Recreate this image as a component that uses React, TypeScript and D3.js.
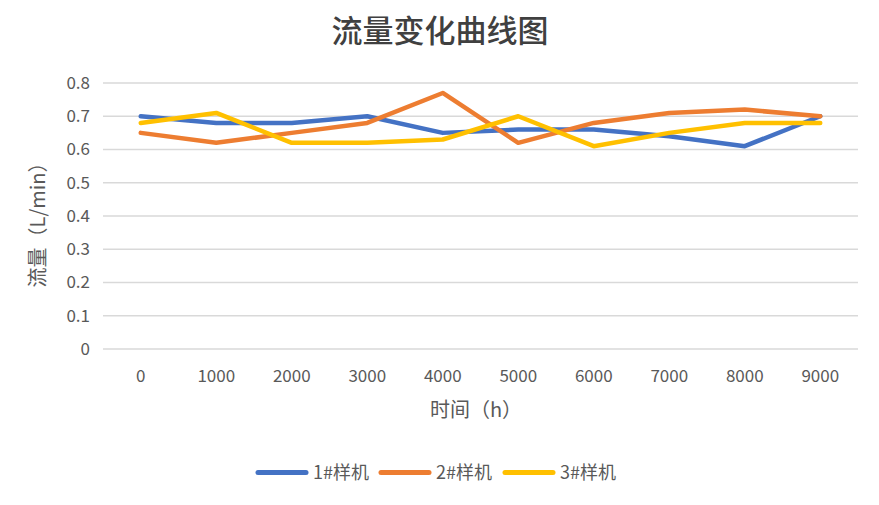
import React, { useEffect, useRef } from 'react';
import * as d3 from 'd3';

const hours = ['0', '1000', '2000', '3000', '4000', '5000', '6000', '7000', '8000', '9000'];
const sample1 = [0.70, 0.68, 0.68, 0.70, 0.65, 0.66, 0.66, 0.64, 0.61, 0.70];
const sample2 = [0.65, 0.62, 0.65, 0.68, 0.77, 0.62, 0.68, 0.71, 0.72, 0.70];
const sample3 = [0.68, 0.71, 0.62, 0.62, 0.63, 0.70, 0.61, 0.65, 0.68, 0.68];
const yTicks = [0, 0.1, 0.2, 0.3, 0.4, 0.5, 0.6, 0.7, 0.8];
const seriesNames = ['1#样机', '2#样机', '3#样机'];
const seriesColors = ['#4472C4', '#ED7D31', '#FFC000'];

const W = 879;
const H = 505;
const FONT = '"Noto Sans CJK SC", "Noto Sans", sans-serif';

export default function App() {
  const svgRef = useRef<SVGSVGElement>(null);

  useEffect(() => {
    if (!svgRef.current) return;
    const svg = d3.select(svgRef.current);
    svg.selectAll('*').remove();

    const margin = { top: 83, right: 21, bottom: 156, left: 103 };

    const x = d3.scaleBand<string>()
      .domain(hours)
      .range([margin.left, W - margin.right]);

    const y = d3.scaleLinear()
      .domain([0, 0.8])
      .range([H - margin.bottom, margin.top]);

    // title
    svg.append('text')
      .attr('x', 440)
      .attr('y', 42)
      .attr('text-anchor', 'middle')
      .attr('font-family', FONT)
      .attr('font-size', 31)
      .attr('font-weight', 500)
      .attr('fill', '#404040')
      .text('流量变化曲线图');

    // grid lines
    svg.append('g')
      .selectAll('line')
      .data(yTicks)
      .enter()
      .append('line')
      .attr('x1', margin.left)
      .attr('x2', W - margin.right)
      .attr('y1', d => y(d))
      .attr('y2', d => y(d))
      .attr('stroke', '#d9d9d9')
      .attr('stroke-width', 1.3);

    // y tick labels
    svg.append('g')
      .selectAll('text')
      .data(yTicks)
      .enter()
      .append('text')
      .attr('x', 90)
      .attr('y', d => y(d))
      .attr('dy', '0.35em')
      .attr('text-anchor', 'end')
      .attr('font-family', FONT)
      .attr('font-size', 17)
      .attr('fill', '#595959')
      .text(d => d3.format('.1~f')(d));

    // x tick labels
    svg.append('g')
      .selectAll('text')
      .data(hours)
      .enter()
      .append('text')
      .attr('x', d => (x(d) as number) + x.bandwidth() / 2)
      .attr('y', 376)
      .attr('dy', '0.35em')
      .attr('text-anchor', 'middle')
      .attr('font-family', FONT)
      .attr('font-size', 17)
      .attr('fill', '#595959')
      .text(d => d);

    // axis titles
    svg.append('text')
      .attr('x', 476)
      .attr('y', 410)
      .attr('dy', '0.35em')
      .attr('text-anchor', 'middle')
      .attr('font-family', FONT)
      .attr('font-size', 20)
      .attr('fill', '#595959')
      .text('时间（h）');

    svg.append('text')
      .attr('transform', 'translate(38,220) rotate(-90)')
      .attr('dy', '0.35em')
      .attr('text-anchor', 'middle')
      .attr('font-family', FONT)
      .attr('font-size', 20)
      .attr('fill', '#595959')
      .text('流量（L/min）');

    // lines
    const line = d3.line<number>()
      .x((_, i) => (x(hours[i]) as number) + x.bandwidth() / 2)
      .y(d => y(d));

    [sample1, sample2, sample3].forEach((s, i) => {
      svg.append('path')
        .datum(s)
        .attr('fill', 'none')
        .attr('stroke', seriesColors[i])
        .attr('stroke-width', 4.5)
        .attr('stroke-linejoin', 'round')
        .attr('stroke-linecap', 'round')
        .attr('d', line);
    });

    // legend
    const legendX = [258, 381, 505];
    const legend = svg.append('g');
    seriesNames.forEach((name, i) => {
      legend.append('line')
        .attr('x1', legendX[i])
        .attr('x2', legendX[i] + 48)
        .attr('y1', 472.5)
        .attr('y2', 472.5)
        .attr('stroke', seriesColors[i])
        .attr('stroke-width', 5)
        .attr('stroke-linecap', 'round');
      legend.append('text')
        .attr('x', legendX[i] + 55)
        .attr('y', 472.5)
        .attr('dy', '0.35em')
        .attr('font-family', FONT)
        .attr('font-size', 18)
        .attr('fill', '#595959')
        .text(name);
    });
  }, []);

  return (
    <svg
      ref={svgRef}
      width={W}
      height={H}
      style={{ position: 'absolute', left: 0, top: 0, background: '#fff' }}
    />
  );
}
